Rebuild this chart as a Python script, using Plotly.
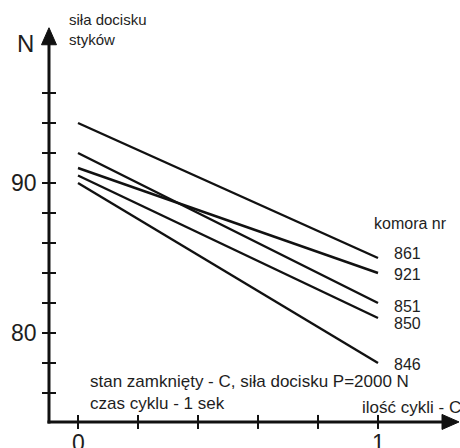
import plotly.graph_objects as go

# ---- data ----
komora = ["861", "921", "851", "850", "846"]
cycles = [0, 1]
force_start = [94.0, 91.0, 92.0, 90.5, 90.0]
force_end = [85.0, 84.0, 82.0, 81.0, 78.0]
y_ticks = [76, 78, 80, 82, 84, 86, 88, 90, 92, 94, 96]
y_tick_labels = {80: "80", 90: "90"}
x_ticks = [0, 0.2, 0.4, 0.6, 0.8, 1.0]
x_tick_labels = {0: "0", 1: "1"}

# ---- layout geometry ----
W, H = 460, 448
X_RANGE = [-0.26, 1.2733]
Y_RANGE = [72.333, 102.2]
AXIS_X = -0.0967   # where the vertical axis sits
AXIS_Y = 74.07     # where the horizontal axis sits
X_TIP = 1.27
Y_TIP = 100.35
FONT = "Liberation Sans, Arial, sans-serif"
TXT = "#1e1e1e"
INK = "#111111"
label_yshift = [5, -1, -3, -5, -1]

PX_X = (X_RANGE[1] - X_RANGE[0]) / W
PX_Y = (Y_RANGE[1] - Y_RANGE[0]) / H


def px(xp):
    return xp / W


def py(yp):
    return 1 - yp / H


fig = go.Figure()

for name, a, b in zip(komora, force_start, force_end):
    fig.add_trace(go.Scatter(x=cycles, y=[a, b], mode="lines",
                             line=dict(color=INK, width=2.4),
                             name=name, showlegend=False, hoverinfo="skip"))

# axis lines
fig.add_trace(go.Scatter(x=[AXIS_X - 1.5 * PX_X, X_TIP - 8 * PX_X], y=[AXIS_Y, AXIS_Y],
                         mode="lines", line=dict(color=INK, width=3),
                         showlegend=False, hoverinfo="skip", cliponaxis=False))
fig.add_trace(go.Scatter(x=[AXIS_X, AXIS_X], y=[AXIS_Y - 1.5 * PX_Y, Y_TIP - 8 * PX_Y],
                         mode="lines", line=dict(color=INK, width=3),
                         showlegend=False, hoverinfo="skip", cliponaxis=False))
# arrow heads (triangles whose apex sits on the tip point)
head_len, head_half = 17, 7.5
fig.add_trace(go.Scatter(
    x=[AXIS_X, AXIS_X - head_half * PX_X, AXIS_X + head_half * PX_X, AXIS_X],
    y=[Y_TIP, Y_TIP - head_len * PX_Y, Y_TIP - head_len * PX_Y, Y_TIP],
    mode="lines", fill="toself", fillcolor=INK, line=dict(color=INK, width=1),
    showlegend=False, hoverinfo="skip", cliponaxis=False))
fig.add_trace(go.Scatter(
    x=[X_TIP, X_TIP - head_len * PX_X, X_TIP - head_len * PX_X, X_TIP],
    y=[AXIS_Y, AXIS_Y + head_half * PX_Y, AXIS_Y - head_half * PX_Y, AXIS_Y],
    mode="lines", fill="toself", fillcolor=INK, line=dict(color=INK, width=1),
    showlegend=False, hoverinfo="skip", cliponaxis=False))

# tick marks
fig.add_trace(go.Scatter(x=[AXIS_X] * len(y_ticks), y=y_ticks, mode="markers",
                         marker=dict(symbol="line-ew", size=10,
                                     line=dict(width=2, color=INK)),
                         showlegend=False, hoverinfo="skip", cliponaxis=False))
fig.add_trace(go.Scatter(x=x_ticks, y=[AXIS_Y] * len(x_ticks), mode="markers",
                         marker=dict(symbol="line-ns", size=10,
                                     line=dict(width=2, color=INK)),
                         showlegend=False, hoverinfo="skip", cliponaxis=False))

ann = []
for v, t in y_tick_labels.items():
    ann.append(dict(x=AXIS_X, y=v, xref="x", yref="y", text=t, showarrow=False,
                    xanchor="right", yanchor="middle", xshift=-10,
                    font=dict(family=FONT, size=23, color=TXT)))
for v, t in x_tick_labels.items():
    ann.append(dict(x=v, y=AXIS_Y, xref="x", yref="y", text=t, showarrow=False,
                    xanchor="center", yanchor="top", yshift=-6,
                    font=dict(family=FONT, size=23, color=TXT)))

# line labels
for name, b, dy in zip(komora, force_end, label_yshift):
    ann.append(dict(x=1, y=b, xref="x", yref="y", text=name, showarrow=False,
                    xanchor="left", yanchor="middle", xshift=14, yshift=dy,
                    font=dict(family=FONT, size=16, color=TXT)))

ann.append(dict(x=px(372), y=py(223), xref="paper", yref="paper", text="komora nr",
                showarrow=False, xanchor="left", yanchor="middle",
                font=dict(family=FONT, size=16, color=TXT)))
ann.append(dict(x=px(36), y=py(44), xref="paper", yref="paper", text="N",
                showarrow=False, xanchor="right", yanchor="middle",
                font=dict(family=FONT, size=24, color=TXT)))
ann.append(dict(x=px(67), y=py(30), xref="paper", yref="paper",
                text="siła docisku<br>styków", showarrow=False,
                xanchor="left", yanchor="middle", align="left",
                font=dict(family=FONT, size=15, color=TXT)))
ann.append(dict(x=px(88), y=py(392), xref="paper", yref="paper",
                text="stan zamknięty - C, siła docisku P=2000 N<br>czas cyklu - 1 sek",
                showarrow=False, xanchor="left", yanchor="middle", align="left",
                font=dict(family=FONT, size=17, color=TXT)))
ann.append(dict(x=px(360), y=py(407), xref="paper", yref="paper",
                text="ilość cykli - C", showarrow=False,
                xanchor="left", yanchor="middle",
                font=dict(family=FONT, size=17, color=TXT)))

fig.update_layout(
    width=W, height=H,
    margin=dict(l=0, r=0, t=0, b=0),
    paper_bgcolor="white", plot_bgcolor="white",
    xaxis=dict(range=X_RANGE, visible=False, fixedrange=True),
    yaxis=dict(range=Y_RANGE, visible=False, fixedrange=True),
    annotations=ann,
    showlegend=False,
)

fig.write_html("out.html", config={"displayModeBar": False},
               post_script="document.body.style.margin='0';document.body.style.overflow='hidden';")
